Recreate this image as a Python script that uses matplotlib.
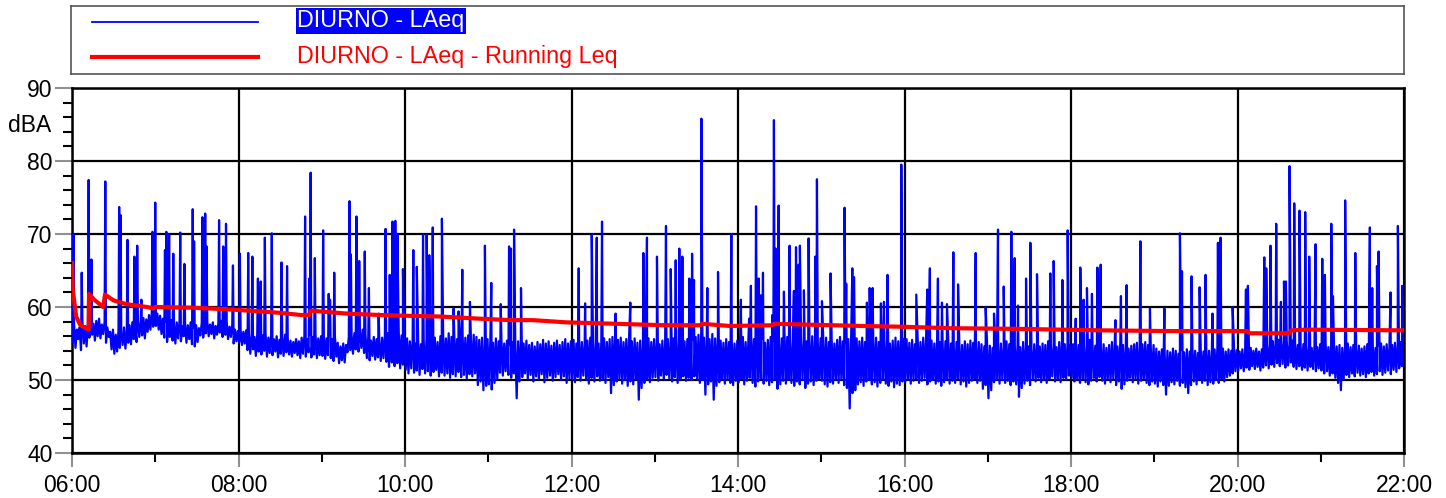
import matplotlib.pyplot as plt
from matplotlib.lines import Line2D

plt.rcParams['font.family'] = ['Liberation Sans', 'DejaVu Sans']

# LAeq band: low / high level per 2-minute block, one row per hour (06h .. 21h)
band_lo = [
    [55.2, 54.4, 55.6, 54.1, 55.0, 54.6, 55.8, 56.2, 55.4, 56.0, 55.7, 56.3, 55.1, 55.9, 54.2,
     53.6, 53.9, 54.4, 54.8, 54.3, 55.1, 54.9, 55.6, 55.2, 55.9, 56.1, 55.7, 56.6, 56.9, 57.3],
    [57.4, 56.9, 56.3, 55.8, 55.2, 55.9, 55.4, 55.0, 55.7, 55.3, 56.0, 55.1, 55.6, 54.9, 54.6,
     55.2, 56.1, 55.8, 56.4, 56.0, 56.3, 55.7, 56.2, 56.5, 55.9, 56.2, 55.6, 55.9, 55.0, 55.3],
    [55.2, 54.8, 55.0, 54.1, 53.6, 54.2, 53.3, 53.9, 53.5, 54.0, 53.2, 53.7, 53.4, 53.9, 53.1,
     53.6, 53.3, 53.8, 53.5, 53.2, 53.7, 53.4, 53.0, 53.6, 53.2, 53.8, 53.1, 53.5, 53.0, 53.4],
    [53.3, 52.9, 53.4, 53.0, 52.6, 53.2, 52.3, 52.7, 52.4, 53.8, 54.1, 53.6, 54.2, 53.9, 54.4,
     53.7, 53.0, 52.7, 53.3, 52.8, 53.1, 52.6, 53.0, 52.5, 51.8, 52.4, 51.9, 52.3, 51.6, 52.1],
    [51.4, 50.9, 51.6, 51.0, 51.3, 50.7, 51.5, 50.9, 51.2, 50.6, 51.1, 51.4, 50.5, 51.0, 50.6,
     50.9, 50.3, 50.8, 50.5, 51.1, 50.4, 50.7, 50.2, 50.8, 50.5, 50.9, 49.3, 49.8, 48.6, 49.2],
    [49.4, 48.7, 49.6, 50.1, 51.0, 50.6, 51.2, 50.7, 50.3, 50.9, 47.5, 49.8, 50.4, 50.9, 50.2,
     50.7, 49.8, 50.5, 50.1, 50.8, 49.7, 50.3, 50.6, 49.9, 50.4, 50.8, 50.0, 50.5, 49.6, 50.2],
    [50.2, 49.7, 50.4, 49.9, 50.6, 50.0, 49.5, 50.3, 49.8, 50.5, 49.9, 50.2, 49.6, 50.4, 48.2,
     49.3, 49.8, 50.2, 49.5, 50.0, 49.2, 49.8, 49.4, 50.1, 47.3, 48.9, 49.6, 50.2, 49.7, 50.3],
    [50.4, 49.9, 50.6, 50.1, 50.7, 50.2, 49.8, 50.4, 49.6, 50.2, 50.5, 49.9, 50.3, 50.0, 50.5,
     50.1, 49.6, 50.0, 48.0, 49.4, 49.8, 47.3, 49.2, 49.7, 50.1, 49.5, 50.0, 49.6, 49.3, 49.9],
    [49.7, 50.2, 49.4, 49.9, 50.3, 49.6, 49.1, 49.8, 50.2, 49.5, 49.9, 49.3, 49.7, 50.1, 48.8,
     49.4, 49.9, 49.5, 50.1, 49.6, 49.2, 49.8, 49.4, 50.0, 48.9, 49.5, 49.8, 49.3, 49.9, 50.2],
    [49.9, 49.4, 49.1, 49.7, 49.5, 50.0, 49.6, 50.1, 49.3, 48.9, 46.1, 48.2, 48.6, 49.4, 49.7,
     49.2, 49.8, 50.0, 49.4, 49.7, 49.1, 49.6, 50.1, 49.5, 49.2, 49.8, 49.0, 49.5, 49.3, 49.8],
    [49.7, 50.1, 49.5, 49.9, 50.2, 49.6, 49.9, 50.3, 49.4, 49.8, 50.0, 49.5, 49.8, 49.2, 49.7,
     50.1, 49.5, 49.9, 49.6, 50.2, 49.4, 49.8, 49.1, 49.6, 49.9, 50.2, 49.6, 49.9, 48.8, 49.3],
    [47.5, 48.6, 49.7, 50.1, 49.5, 50.0, 49.6, 49.9, 49.3, 49.8, 49.4, 47.7, 48.9, 49.5, 49.9,
     49.3, 50.1, 49.8, 50.3, 49.7, 50.0, 49.6, 50.2, 50.5, 49.8, 50.1, 49.7, 50.3, 50.0, 50.6],
    [50.3, 49.8, 50.1, 49.6, 50.2, 49.7, 49.4, 49.9, 50.3, 49.8, 50.4, 49.9, 49.5, 50.1, 49.7,
     50.2, 49.3, 49.8, 48.8, 49.4, 49.9, 50.3, 49.7, 50.1, 49.5, 49.9, 50.2, 49.6, 49.3, 49.8],
    [49.5, 49.1, 49.8, 49.3, 48.0, 49.2, 49.7, 49.4, 49.9, 49.2, 49.6, 49.0, 48.2, 49.3, 49.8,
     49.4, 50.0, 49.6, 49.9, 49.3, 49.7, 49.5, 50.0, 49.6, 50.2, 49.8, 50.4, 50.6, 50.9, 51.2],
    [51.3, 51.6, 51.2, 51.7, 51.4, 51.9, 51.5, 51.8, 51.3, 51.7, 52.0, 51.6, 52.1, 51.8, 52.3,
     51.9, 52.2, 51.7, 52.0, 52.4, 51.8, 51.5, 51.9, 51.4, 51.7, 51.3, 51.8, 51.5, 51.2, 51.6],
    [51.3, 50.9, 51.2, 50.6, 50.9, 50.3, 49.6, 48.6, 50.1, 50.7, 50.4, 50.9, 50.5, 51.0, 50.6,
     50.8, 50.4, 50.9, 51.1, 50.6, 50.8, 51.2, 50.7, 51.0, 51.3, 50.8, 51.4, 51.1, 51.6, 51.9],
]
band_hi = [
    [57.6, 56.9, 57.2, 58.0, 57.4, 57.8, 58.3, 57.7, 58.1, 58.4, 57.6, 58.0, 57.2, 56.6, 56.9,
     56.2, 56.7, 56.4, 57.2, 56.8, 57.5, 57.9, 57.3, 58.2, 58.0, 58.5, 58.3, 58.9, 59.2, 58.8],
    [59.1, 58.8, 58.4, 58.0, 57.6, 58.2, 57.7, 57.9, 58.1, 57.4, 57.8, 57.5, 57.9, 57.2, 57.5,
     57.1, 57.8, 57.5, 58.0, 57.6, 57.9, 57.4, 57.8, 58.1, 57.6, 57.9, 57.3, 57.6, 56.9, 56.7],
    [56.9, 56.6, 56.8, 56.2, 56.4, 55.9, 56.3, 55.7, 56.1, 56.4, 55.8, 56.2, 55.6, 56.0, 55.5,
     55.9, 56.2, 55.7, 55.4, 55.2, 55.6, 55.3, 55.8, 56.1, 55.6, 56.2, 55.9, 56.3, 55.7, 56.0],
    [56.1, 55.7, 56.2, 55.6, 55.9, 55.1, 54.6, 55.0, 54.8, 55.9, 56.2, 56.4, 56.0, 56.6, 56.9,
     56.3, 55.8, 55.4, 55.9, 55.6, 55.3, 55.8, 56.1, 56.4, 55.9, 56.3, 55.8, 56.5, 56.1, 55.7],
    [55.7, 55.3, 55.6, 55.0, 55.5, 54.9, 55.3, 55.6, 55.1, 55.4, 55.8, 55.2, 56.0, 56.3, 55.7,
     56.4, 55.9, 56.2, 55.6, 56.0, 56.3, 55.8, 56.1, 55.7, 56.2, 55.9, 55.5, 55.8, 55.2, 55.6],
    [55.4, 55.1, 55.7, 55.3, 55.6, 55.0, 55.4, 54.8, 55.2, 54.7, 55.3, 55.6, 55.0, 55.4, 54.8,
     55.1, 54.6, 55.2, 54.9, 55.5, 55.0, 55.3, 54.7, 55.1, 55.4, 54.8, 55.2, 55.6, 55.0, 55.3],
    [55.5, 55.0, 55.6, 55.2, 54.9, 55.4, 55.8, 55.1, 55.5, 55.0, 55.3, 55.7, 55.2, 55.6, 55.9,
     56.1, 55.5, 55.8, 55.2, 55.6, 55.9, 55.3, 55.7, 55.1, 55.4, 55.0, 55.3, 55.7, 55.2, 55.6],
    [55.3, 54.9, 55.4, 55.0, 55.6, 55.2, 55.7, 55.9, 55.4, 55.8, 55.3, 55.6, 56.0, 55.5, 55.9,
     56.2, 56.5, 55.8, 56.1, 55.6, 56.3, 55.7, 55.9, 55.4, 55.1, 55.6, 55.2, 55.5, 55.0, 55.4],
    [55.5, 55.9, 55.2, 55.7, 56.2, 55.6, 55.9, 55.3, 55.7, 55.1, 55.5, 55.9, 55.4, 55.8, 55.3,
     55.7, 56.5, 55.9, 55.6, 55.2, 55.7, 56.0, 55.4, 55.8, 55.3, 55.6, 56.0, 55.5, 55.2, 55.7],
    [55.4, 55.8, 55.2, 55.7, 55.0, 55.5, 55.9, 55.3, 55.1, 55.6, 55.4, 55.0, 55.7, 55.3, 55.8,
     55.2, 55.5, 55.9, 55.4, 55.8, 55.2, 55.6, 55.3, 55.7, 55.0, 55.4, 55.8, 55.3, 56.0, 55.6],
    [55.6, 55.1, 55.5, 54.9, 55.7, 55.2, 55.8, 55.3, 55.9, 55.4, 55.0, 55.5, 55.2, 54.8, 55.3,
     55.6, 55.0, 54.7, 55.2, 55.0, 54.8, 55.3, 54.9, 55.4, 55.1, 54.8, 55.2, 54.9, 54.6, 55.0],
    [54.7, 54.4, 55.1, 54.8, 55.0, 54.6, 55.3, 54.9, 55.1, 54.7, 55.0, 54.5, 55.2, 54.8, 54.6,
     54.3, 54.9, 55.1, 54.6, 55.0, 54.8, 55.3, 54.7, 55.0, 54.5, 55.2, 55.4, 54.9, 55.2, 54.8],
    [54.9, 55.3, 54.8, 55.1, 54.6, 55.0, 55.5, 55.0, 54.7, 55.1, 54.6, 54.9, 54.4, 54.8, 55.2,
     54.9, 54.6, 55.0, 54.8, 54.5, 54.3, 54.7, 54.9, 55.1, 54.6, 54.9, 55.2, 54.8, 54.5, 54.8],
    [54.3, 53.9, 54.2, 53.7, 54.0, 53.8, 54.3, 54.0, 53.6, 54.1, 53.8, 54.2, 53.9, 54.4, 54.0,
     53.7, 54.2, 53.9, 54.3, 54.0, 53.8, 54.2, 54.4, 54.1, 54.3, 53.9, 54.2, 54.0, 54.3, 54.1],
    [53.9, 54.2, 53.8, 54.1, 54.4, 54.0, 54.3, 53.9, 54.2, 54.5, 54.8, 55.0, 55.3, 55.1, 55.5,
     55.2, 55.6, 55.3, 55.0, 55.4, 55.1, 54.8, 54.6, 54.9, 54.5, 54.8, 54.4, 54.7, 54.5, 54.9],
    [54.7, 55.0, 54.5, 54.9, 55.1, 54.6, 54.8, 54.4, 54.7, 55.0, 54.5, 54.8, 54.4, 54.7, 54.3,
     54.6, 54.9, 54.5, 54.8, 54.4, 54.7, 55.0, 54.6, 54.9, 54.5, 54.8, 55.1, 54.9, 55.2, 55.4],
]

# short noise events: minutes after 06:00, peak LAeq
peak_min = [
    1, 7, 12, 14, 24, 34, 35, 40, 45, 47, 50, 58, 60, 67, 68, 70, 73, 78, 81, 87, 88, 94, 96, 97,
    106, 109, 111, 116, 121, 127, 130, 134, 136, 139, 144, 151, 155,
    168, 171, 172, 175, 181, 185, 186, 189, 200, 201, 205, 207, 211, 214, 221, 226, 229, 231, 233,
    234.5, 238.5, 246, 248.5, 253, 255.6, 257.5, 260, 266.6, 275, 278.6, 281.3, 286.8, 297.6, 302.2,
    309, 315, 316.4, 318.6, 323.6, 365.2, 369.8, 374.6, 378.2, 382, 391.8, 402.4, 411.8, 414.4,
    421.6, 428.1, 431.5, 435.1, 437.7, 439.9, 444.9, 446.9, 448.3, 453.6, 457.9, 465.6,
    475.2, 482.1, 488, 489.3, 493, 494.9, 496.5, 498, 504.7, 505.9, 507.1, 509.3, 513.1, 517.2,
    520.3, 521.8, 523.7, 524.6, 527.5, 530.9, 535.7, 536.9, 540.5, 546.7, 556.8, 558, 562.4, 563.6,
    572.9, 574.9, 577, 583, 585.2, 587.8, 597.7, 608.5, 616.4, 618.3, 624.1, 627, 630.6,
    635.2, 638.6, 651.3, 658.5, 664.5, 667.4, 671.5, 677, 679.4, 681.8, 687.6, 690.7, 695.5, 705.1,
    707.5, 713.8, 717.6, 723.4, 726.7, 729.1, 731.5, 735.1, 739, 741.4, 752, 756, 760.1, 770,
    776.9, 787.3, 798.5, 800, 806.9, 812.7, 817, 822, 825.9, 827.8, 836.5, 846.1, 847.5, 859.3,
    860.7, 863.8, 867.9, 871.3, 873.5, 874.9, 877.5, 880.9, 884.7, 888.8, 891.7, 896.3, 901.1, 903,
    907.6, 908.8, 917.6, 924.9, 935.4, 937.1, 940.5, 941.7, 950.3, 955.6, 958.7,
]
peak_db = [
    70.0, 64.7, 77.4, 66.5, 77.2, 73.7, 72.6, 69.2, 66.9, 68.4, 61.0, 70.3, 74.3, 67.8, 70.3, 70.0,
    67.3, 70.2, 65.9, 73.4, 69.0, 72.3, 72.8, 68.3, 71.9, 68.3, 71.4, 65.7, 67.3, 67.4, 66.9, 63.9,
    63.5, 69.5, 70.1, 66.1, 65.6,
    72.4, 63.9, 78.4, 66.7, 70.5, 61.8, 61.0, 64.7, 74.5, 67.2, 72.4, 66.3, 67.6, 62.6, 59.1, 70.7,
    64.4, 71.7, 71.8, 70.0, 65.2, 67.8, 65.5, 69.9, 69.9, 67.1, 70.9, 72.1, 59.8, 59.4, 65.1, 60.7,
    68.4, 63.3, 60.4, 68.3, 68.0, 70.6, 62.6, 65.3, 60.5, 69.9, 69.5, 71.7, 59.1, 60.6, 67.4, 69.5,
    66.9, 71.1, 65.2, 66.4, 68.0, 66.9, 63.9, 67.3, 63.7, 85.8, 62.6, 64.8,
    70.0, 61.0, 58.4, 62.9, 73.8, 63.9, 61.6, 64.7, 58.9, 85.6, 68.0, 73.9, 62.1, 68.4, 62.2, 68.2,
    65.8, 68.4, 62.3, 69.4, 66.9, 77.5, 60.8, 64.6, 73.6, 63.2, 65.3, 64.1, 60.6, 62.6, 62.6, 60.5,
    60.7, 64.4, 79.5, 61.7, 62.4, 65.3, 63.9, 60.6, 60.4,
    67.5, 63.1, 67.4, 60.0, 59.1, 70.6, 62.8, 70.3, 66.7, 60.2, 63.9, 68.8, 64.5, 64.6, 66.3, 63.7,
    70.5, 58.4, 65.4, 61.0, 62.6, 61.8, 65.4, 65.8, 58.2, 61.5, 63.0, 69.0, 59.8, 59.8,
    70.1, 64.9, 64.2, 62.7, 64.4, 59.1, 68.8, 69.5, 60.0, 62.4, 62.9, 66.8, 65.3, 68.4, 71.4, 60.7,
    63.5, 63.5, 79.3, 74.2, 73.2, 73.0, 66.9, 68.6, 66.6, 64.4, 71.4, 61.5, 74.6, 67.4, 70.9, 62.6,
    65.6, 67.6, 62.0, 71.1, 62.9,
]

# running Leq, minutes after 06:00
run_min = [0, 0.5, 1.5, 3, 6, 12, 12.3, 16, 22.5, 23.8, 30, 39, 54, 58.6, 60, 87, 111, 135, 150,
           165, 171, 172, 198, 222, 241, 265, 294, 316, 332, 356, 392, 428, 453, 454, 474, 505,
           506, 570, 597, 633, 683, 743, 791, 847, 849, 877, 879, 890, 960]
run_db = [66.0, 62.5, 60.9, 58.7, 57.5, 56.9, 61.8, 61.0, 60.0, 61.7, 60.9, 60.4, 60.0, 59.8, 60.0,
          59.9, 59.7, 59.4, 59.2, 58.9, 58.9, 59.5, 59.1, 58.9, 58.8, 58.7, 58.4, 58.2, 58.2, 57.9,
          57.7, 57.5, 57.5, 57.7, 57.4, 57.5, 57.7, 57.4, 57.3, 57.1, 57.0, 56.8, 56.7, 56.7, 56.4,
          56.4, 56.8, 56.9, 56.8]

hour_labels = ['06:00', '08:00', '10:00', '12:00', '14:00', '16:00', '18:00', '20:00', '22:00']

# assemble the LAeq trace: low then high inside each block, then add the events
pts = []
for h in range(len(band_lo)):
    for k in range(len(band_lo[h])):
        m = h * 60 + k * 2
        pts.append((m + 0.5, band_lo[h][k]))
        pts.append((m + 1.5, band_hi[h][k]))
pts += list(zip(peak_min, peak_db))
pts.sort()
laeq_t = [6 + p[0] / 60 for p in pts]
laeq_v = [p[1] for p in pts]
run_t = [6 + m / 60 for m in run_min]

fig = plt.figure(figsize=(14.46, 4.98), dpi=100)
ax = fig.add_axes([72 / 1446, 45 / 498, 1332 / 1446, 365 / 498])

ax.plot(laeq_t, laeq_v, color='#0000ff', lw=1.6, zorder=3)
ax.plot(run_t, run_db, color='#ff0000', lw=3.0, zorder=4)

ax.set_xlim(6, 22)
ax.set_ylim(40, 90)
ax.set_xticks(range(6, 23, 2))
ax.set_xticklabels(hour_labels)
ax.set_xticks(range(7, 22, 2), minor=True)
ax.set_yticks(range(40, 91, 10))
ax.set_yticks(range(40, 91, 2), minor=True)
ax.grid(True, which='major', color='black', lw=1.6)
ax.set_axisbelow(True)
for s in ax.spines.values():
    s.set_linewidth(1.8)
ax.tick_params(which='major', length=12, width=1.5, color='#909090', labelsize=16.5, pad=2)
ax.tick_params(axis='x', which='major', length=10, pad=5)
ax.tick_params(which='minor', length=6.5, width=1.5, color='black')
fig.text(30 / 1446, 1 - 125 / 498, 'dBA', fontsize=16.5, ha='center', va='center')

# legend panel
lg = fig.add_axes([71 / 1446, 1 - 74 / 498, 1333 / 1446, 68 / 498])
lg.set_xlim(0, 1333)
lg.set_ylim(68, 0)
lg.set_xticks([])
lg.set_yticks([])
for s in lg.spines.values():
    s.set_color('#555555')
    s.set_linewidth(1.2)
lg.add_line(Line2D([21, 187], [16, 16], color='#0000ff', lw=1.3))
lg.add_line(Line2D([21, 187], [51, 51], color='#ff0000', lw=3.0))
lg.text(226, 15, 'DIURNO - LAeq', color='white', fontsize=16.8, va='center', ha='left',
        bbox=dict(facecolor='#0000ff', edgecolor='none', pad=1.0))
lg.text(226, 50, 'DIURNO - LAeq - Running Leq', color='#ff0000', fontsize=16.8,
        va='center', ha='left')

fig.savefig('out.png', dpi=100)
